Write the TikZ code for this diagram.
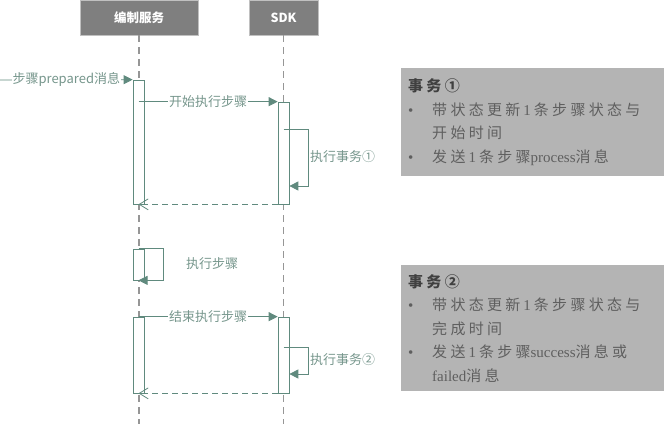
\documentclass[tikz,border=0pt]{standalone}
\usepackage{fontspec}
\setmainfont{Liberation Serif}
\newfontfamily\cjk{Noto Sans CJK SC}
\newfontfamily\cjknote[LetterSpace=22]{Noto Sans CJK SC}
\usetikzlibrary{positioning, arrows.meta}
\usepackage{color}

\definecolor{msg}{RGB}{96,138,126}
\definecolor{msgtext}{RGB}{118,150,140}
\definecolor{headgray}{RGB}{127,127,127}
\definecolor{lifegray}{RGB}{150,150,150}
\definecolor{notegray}{RGB}{180,180,180}
\definecolor{notetext}{RGB}{95,95,95}
\definecolor{notetitle}{RGB}{64,64,64}

\newcommand{\gap}{\hspace{3pt}}

\begin{document}
\begin{tikzpicture}[x=1pt, y=-1pt,
	head/.style={draw=lifegray!60, fill=headgray, text=white, font=\cjk\bfseries\fontsize{12.5}{14}\selectfont, minimum height=35pt, inner sep=0pt},
	life/.style={lifegray, line width=1.3pt, dash pattern=on 7pt off 5pt},
	bar/.style={draw=msg, line width=0.7pt, fill=white, minimum width=11pt, inner sep=0pt},
	msgline/.style={msg, line width=0.8pt, -{Triangle[length=9pt,width=9pt]}},
	retline/.style={msg, line width=0.8pt, dash pattern=on 6pt off 4pt, -{Straight Barb[length=9pt,width=11pt]}},
	lbl/.style={text=msgtext, font=\cjk\fontsize{13}{15}\selectfont, inner sep=1pt},
	note/.style={fill=notegray, anchor=north west, align=left, text=notetext, font=\fontsize{15}{23.5}\selectfont, inner xsep=7pt, text width=249pt, minimum width=263pt}
]
	\useasboundingbox (0,0) rectangle (665,424);

%heads
	\node [head, minimum width=118pt] (srv) at (139,17.5) {编制服务};
	\node [head, minimum width=69pt] (sdk) at (283.5,17.5) {SDK};

%lifelines
	\coordinate [] (srvend) at (139,424);
	\coordinate [] (sdkend) at (283.5,424);
	\draw [life] (srv) -- (srvend);
	\draw [life] (sdk) -- (sdkend);

%activation bars
	\node [bar, minimum height=124pt] (barA) at (138.5,142) {};
	\node [bar, minimum height=102pt] (barB) at (283.5,153) {};
	\node [bar, minimum height=31pt] (barC) at (138.5,264.5) {};
	\node [bar, minimum height=76pt] (barD) at (138.5,355) {};
	\node [bar, minimum height=76pt] (barE) at (283.5,355) {};

%first round
	\coordinate [] (in) at (0,80);
	\draw [msgline] (in) -- (barA.north west) node [lbl, fill=white, midway] {步骤prepared消息};
	\draw [msgline] (barA.north |- barB.north) -- (barB.north west) node [lbl, fill=white, midway] {开始执行步骤};
	\coordinate [] (sA1) at (283.5,129);
	\coordinate [] (sA2) at (308,186);
	\draw [msgline] (sA1) -| (sA2) -- (barB.east |- sA2);
	\node [lbl, anchor=west] (tA) at (309,157) {执行事务①};
	\draw [retline] (barB.south west) -- (barA.south);

%self call
	\coordinate [] (sC) at (163,249);
	\draw [msgline] (barC.north) -| (sC |- barC.south) -- (barC.south);
	\node [lbl] (tC) at (212,264) {执行步骤};

%second round
	\draw [msgline] (barD.north) -- (barE.north west) node [lbl, fill=white, midway] {结束执行步骤};
	\coordinate [] (sE1) at (283.5,347);
	\coordinate [] (sE2) at (308,374);
	\draw [msgline] (sE1) -| (sE2) -- (barE.east |- sE2);
	\node [lbl, anchor=west] (tE) at (309,360) {执行事务②};
	\draw [retline] (barE.south west) -- (barD.south);

%notes
	\node [note, minimum height=108pt] (noteA) at (401,68) {{\color{notetitle}\cjknote\bfseries 事务①}\\
		\makebox[24pt][l]{\textbullet}{\cjknote 带状态更新}\gap1\gap{\cjknote 条步骤状态与}\\
		\hspace*{24pt}{\cjknote 开始时间}\\
		\makebox[24pt][l]{\textbullet}{\cjknote 发送}\gap1\gap{\cjknote 条步骤}process{\cjknote 消息}};
	\node [note, minimum height=126pt] (noteB) at (401,265) {{\color{notetitle}\cjknote\bfseries 事务②}\\
		\makebox[24pt][l]{\textbullet}{\cjknote 带状态更新}\gap1\gap{\cjknote 条步骤状态与}\\
		\hspace*{24pt}{\cjknote 完成时间}\\
		\makebox[24pt][l]{\textbullet}{\cjknote 发送}\gap1\gap{\cjknote 条步骤}success{\cjknote 消息或}\\
		\hspace*{24pt}failed{\cjknote 消息}};

\end{tikzpicture}
\end{document}
